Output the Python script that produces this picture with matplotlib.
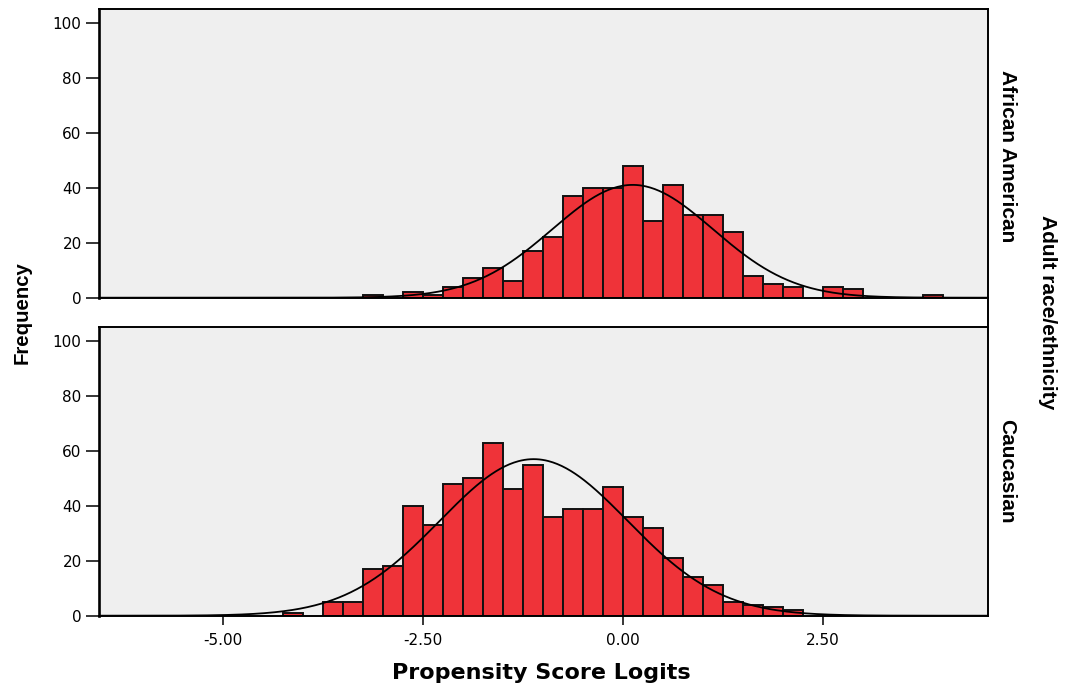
import numpy as np
import matplotlib
matplotlib.use("Agg")
import matplotlib.pyplot as plt
from matplotlib.lines import Line2D

# ---- data ----
bin_width = 0.25
bin_lefts = [-4.25, -4.0, -3.75, -3.5, -3.25, -3.0, -2.75, -2.5, -2.25, -2.0,
             -1.75, -1.5, -1.25, -1.0, -0.75, -0.5, -0.25, 0.0, 0.25, 0.5,
             0.75, 1.0, 1.25, 1.5, 1.75, 2.0, 2.25, 2.5, 2.75, 3.0,
             3.25, 3.5, 3.75]
african_american_counts = [0, 0, 0, 0, 1, 0, 2, 1, 4, 7,
                           11, 6, 17, 22, 37, 40, 40, 48, 28, 41,
                           30, 30, 24, 8, 5, 4, 0, 4, 3, 0,
                           0, 0, 1]
caucasian_counts = [1, 0, 5, 5, 17, 18, 40, 33, 48, 50,
                    63, 46, 55, 36, 39, 39, 47, 36, 32, 21,
                    14, 11, 5, 4, 3, 2, 0, 0, 0, 0,
                    0, 0, 0]
groups = ["African American", "Caucasian"]
x_ticks = [-5.0, -2.5, 0.0, 2.5]
x_tick_labels = ["-5.00", "-2.50", "0.00", "2.50"]
y_ticks = [0, 20, 40, 60, 80, 100]

W, H = 1065, 687
fig = plt.figure(figsize=(W / 100, H / 100), dpi=100)

BAR = "#EF3339"
BG = "#EFEFEF"
lab_font = ["Liberation Sans", "DejaVu Sans"]

def px_rect(l, t, r, b):
    return [l / W, 1 - b / H, (r - l) / W, (b - t) / H]

ax_top = fig.add_axes(px_rect(99, 9, 987.7, 297.7))
ax_bot = fig.add_axes(px_rect(99, 326.7, 987.7, 615.7))

lefts = np.array(bin_lefts)
centers = lefts + bin_width / 2
xs = np.linspace(-6.6, 4.6, 600)

for ax, counts, show_x in [(ax_top, african_american_counts, False),
                           (ax_bot, caucasian_counts, True)]:
    c = np.array(counts, dtype=float)
    m = c > 0
    ax.set_facecolor(BG)
    ax.bar(lefts[m], c[m], width=bin_width, align="edge", color=BAR,
           edgecolor="#111111", linewidth=1.4, zorder=2)
    n = c.sum()
    mu = (c * centers).sum() / n
    sd = np.sqrt((c * (centers - mu) ** 2).sum() / (n - 1))
    ys = n * bin_width / (sd * np.sqrt(2 * np.pi)) * np.exp(-0.5 * ((xs - mu) / sd) ** 2)
    ax.plot(xs, ys, color="black", linewidth=1.3, zorder=3)
    ax.set_xlim(-6.55, 4.555)
    ax.set_ylim(0, 105.2)
    ax.set_yticks(y_ticks)
    ax.set_yticklabels([str(v) for v in y_ticks], fontsize=11, family="DejaVu Sans")
    ax.tick_params(axis="y", direction="out", length=9.5, width=1.1, pad=3)
    for s in ["top", "right", "bottom"]:
        ax.spines[s].set_linewidth(1.4)
    ax.spines["left"].set_linewidth(1.9)
    if show_x:
        ax.set_xticks(x_ticks)
        ax.set_xticklabels(x_tick_labels, fontsize=11, family="DejaVu Sans")
        ax.tick_params(axis="x", direction="out", length=6.5, width=1.1, pad=6)
    else:
        ax.set_xticks([])

# right border through the gap between the panels
fig.add_artist(Line2D([987.7 / W, 987.7 / W], [1 - 326.7 / H, 1 - 297.7 / H],
                      color="black", linewidth=1.4))

fig.text(541 / W, 1 - 673 / H, "Propensity Score Logits", ha="center", va="center",
         fontsize=16, fontweight="bold", family="DejaVu Sans")
fig.text(22 / W, 1 - 313 / H, "Frequency", ha="center", va="center", rotation=90,
         fontsize=14.7, fontweight="bold", family=lab_font)
fig.text(1007 / W, 1 - 156 / H, groups[0], ha="center", va="center", rotation=-90,
         fontsize=15, fontweight="bold", family=lab_font)
fig.text(1007 / W, 1 - 471 / H, groups[1], ha="center", va="center", rotation=-90,
         fontsize=15, fontweight="bold", family=lab_font)
fig.text(1048 / W, 1 - 312 / H, "Adult race/ethnicity", ha="center", va="center",
         rotation=-90, fontsize=15, fontweight="bold", family=lab_font)

fig.savefig("out.png", dpi=100, facecolor="white")
